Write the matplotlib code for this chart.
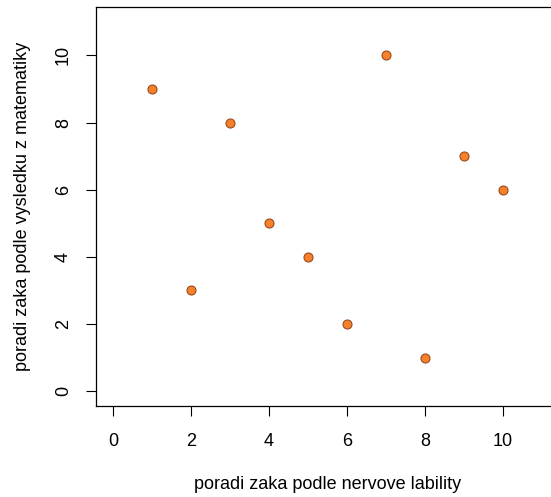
import numpy as np
import matplotlib.pyplot as plt

plt.rcParams['font.family'] = ['Liberation Sans', 'DejaVu Sans']

# poradi zaku
nervova_labilita = [1, 2, 3, 4, 5, 6, 7, 8, 9, 10]
matematika = [9, 3, 8, 5, 4, 2, 10, 1, 7, 6]
ticks = [0, 2, 4, 6, 8, 10]

fig = plt.figure(figsize=(5.51, 4.97), dpi=100)
ax = fig.add_axes([96/551, 1 - 406/497, 463/551, 399/497])

ax.scatter(nervova_labilita, matematika, s=42, c='#F7812A', edgecolors='#9A4A1C',
           linewidths=0.8, zorder=3)

ax.set_xlim(-0.44, 11.44)
ax.set_ylim(-0.44, 11.44)
ax.set_xticks(ticks)
ax.set_yticks(ticks)
ax.tick_params(direction='out', length=7.2, width=0.8, labelsize=13)
ax.tick_params(axis='x', pad=12)
ax.tick_params(axis='y', pad=10)
for lbl in ax.get_yticklabels():
    lbl.set_rotation(90)
    lbl.set_va('center')
for s in ax.spines.values():
    s.set_linewidth(0.9)

ax.set_xlabel('poradi zaka podle nervove lability', fontsize=13, labelpad=19)
ax.set_ylabel('poradi zaka podle vysledku z matematiky', fontsize=13, labelpad=17)

plt.savefig('out.png', dpi=100)
